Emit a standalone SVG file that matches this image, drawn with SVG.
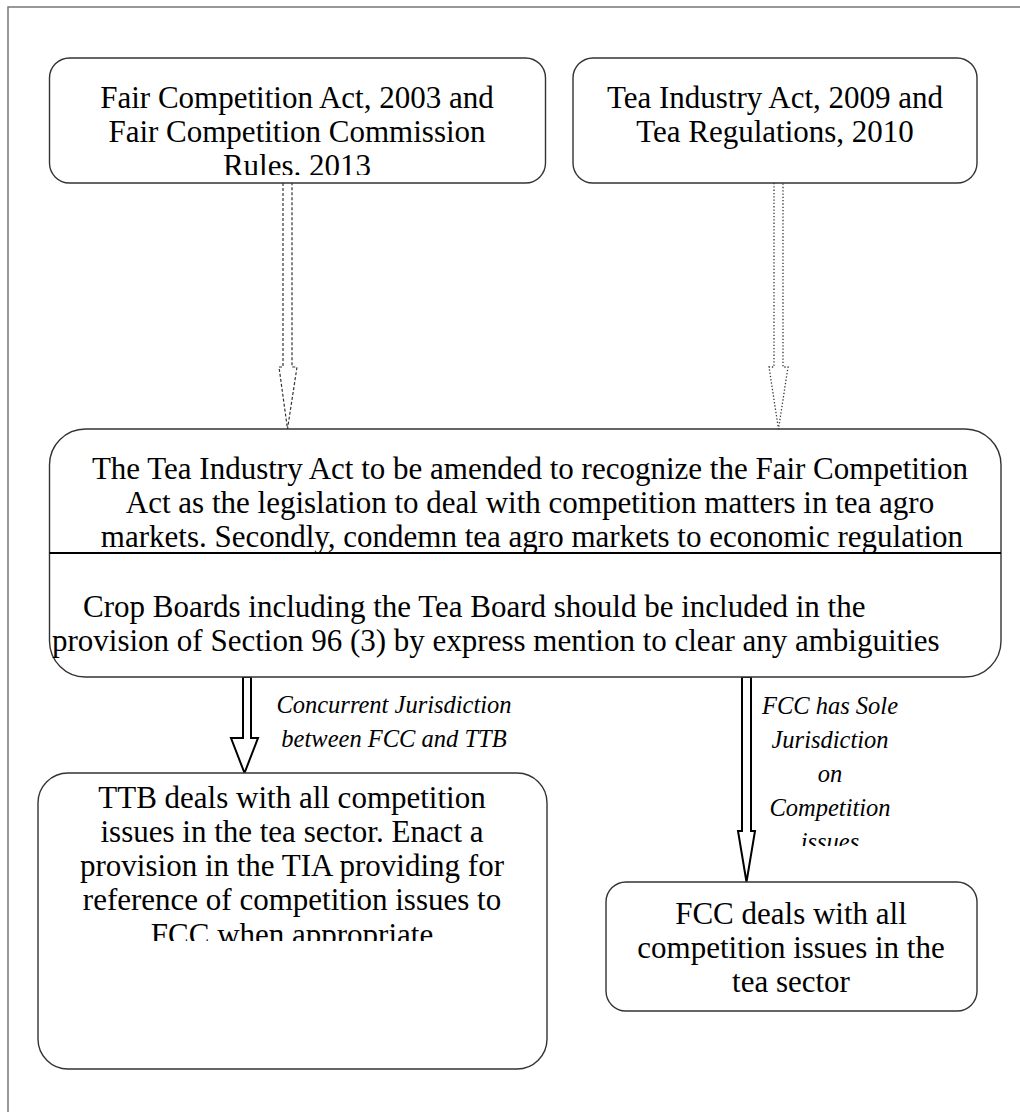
<svg xmlns="http://www.w3.org/2000/svg" width="1020" height="1112" viewBox="0 0 1020 1112">
<style>
.box{fill:#fff;stroke:#333;stroke-width:1.4}
.t{font-family:"Liberation Serif","Times New Roman",serif;font-size:31px;fill:#000;text-anchor:middle}
.lbl{font-family:"Liberation Serif","Times New Roman",serif;font-size:24.5px;font-style:italic;fill:#000;text-anchor:middle}
.dash{fill:none;stroke:#333;stroke-width:1.2;stroke-dasharray:3 2}
.dot{fill:none;stroke:#333;stroke-width:1.3;stroke-dasharray:1.3 2}
.block{fill:#fff;stroke:#000;stroke-width:2}
</style>
<defs>
<clipPath id="clipTL"><rect x="0" y="0" width="1020" height="175"/></clipPath>
<clipPath id="clipBL"><rect x="0" y="0" width="1020" height="941"/></clipPath>
<clipPath id="clipLbl"><rect x="0" y="0" width="1020" height="846"/></clipPath>
</defs>
<rect x="0" y="0" width="1020" height="1112" fill="#fff"/>
<g id="frame"><path d="M8 1112 V7 H1020" fill="none" stroke="#777" stroke-width="1.5"/></g>

<g id="connectors">
<path class="dash" d="M283 183 V367 H279 L287.5 429 L297 367 H292 V183"/>
<path class="dot" d="M774 183 V367 H769 L778.5 429 L788 367 H783 V183"/>
<path class="block" d="M243 677 V738 H231 L244.5 773 L258 738 H251 V677 Z"/>
<path class="block" d="M742 677 V831 H738 L746.5 882 L755 831 H751 V677 Z"/>
</g>

<g id="node-fca">
<rect class="box" x="49.5" y="58" width="496" height="125" rx="20"/>
<g clip-path="url(#clipTL)">
<text class="t" x="297" y="108">Fair Competition Act, 2003 and</text>
<text class="t" x="297" y="142">Fair Competition Commission</text>
<text class="t" x="297" y="176">Rules. 2013</text>
</g>
</g>

<g id="node-tia">
<rect class="box" x="573" y="58" width="404" height="125" rx="20"/>
<text class="t" x="775" y="108">Tea Industry Act, 2009 and</text>
<text class="t" x="775" y="142">Tea Regulations, 2010</text>
</g>

<g id="node-central">
<rect class="box" x="49.5" y="429" width="951.5" height="248" rx="36"/>
<line x1="49.5" y1="553" x2="1001" y2="553" stroke="#000" stroke-width="2"/>
<text class="t" x="530" y="479">The Tea Industry Act to be amended to recognize the Fair Competition</text>
<text class="t" x="530" y="513">Act as the legislation to deal with competition matters in tea agro</text>
<text class="t" x="532" y="547">markets. Secondly, condemn tea agro markets to economic regulation</text>
<text class="t" x="83" y="617" style="text-anchor:start">Crop Boards including the Tea Board should be included in the</text>
<text class="t" x="52" y="651" style="text-anchor:start">provision of Section 96 (3) by express mention to clear any ambiguities</text>
</g>

<g id="label-concurrent">
<text class="lbl" x="394" y="713">Concurrent Jurisdiction</text>
<text class="lbl" x="394" y="747">between FCC and TTB</text>
</g>

<g id="label-sole" clip-path="url(#clipLbl)">
<text class="lbl" x="830" y="714">FCC has Sole</text>
<text class="lbl" x="830" y="748">Jurisdiction</text>
<text class="lbl" x="830" y="782">on</text>
<text class="lbl" x="830" y="816">Competition</text>
<text class="lbl" x="830" y="850">issues</text>
</g>

<g id="node-ttb">
<rect class="box" x="38" y="773" width="509" height="296" rx="30"/>
<g clip-path="url(#clipBL)">
<text class="t" x="292" y="808">TTB deals with all competition</text>
<text class="t" x="292" y="842">issues in the tea sector. Enact a</text>
<text class="t" x="292" y="876">provision in the TIA providing for</text>
<text class="t" x="292" y="910">reference of competition issues to</text>
<text class="t" x="292" y="945">FCC when appropriate</text>
</g>
</g>

<g id="node-fcc">
<rect class="box" x="606" y="882" width="371" height="129" rx="20"/>
<text class="t" x="791" y="924">FCC deals with all</text>
<text class="t" x="791" y="958">competition issues in the</text>
<text class="t" x="791" y="992">tea sector</text>
</g>
</svg>
